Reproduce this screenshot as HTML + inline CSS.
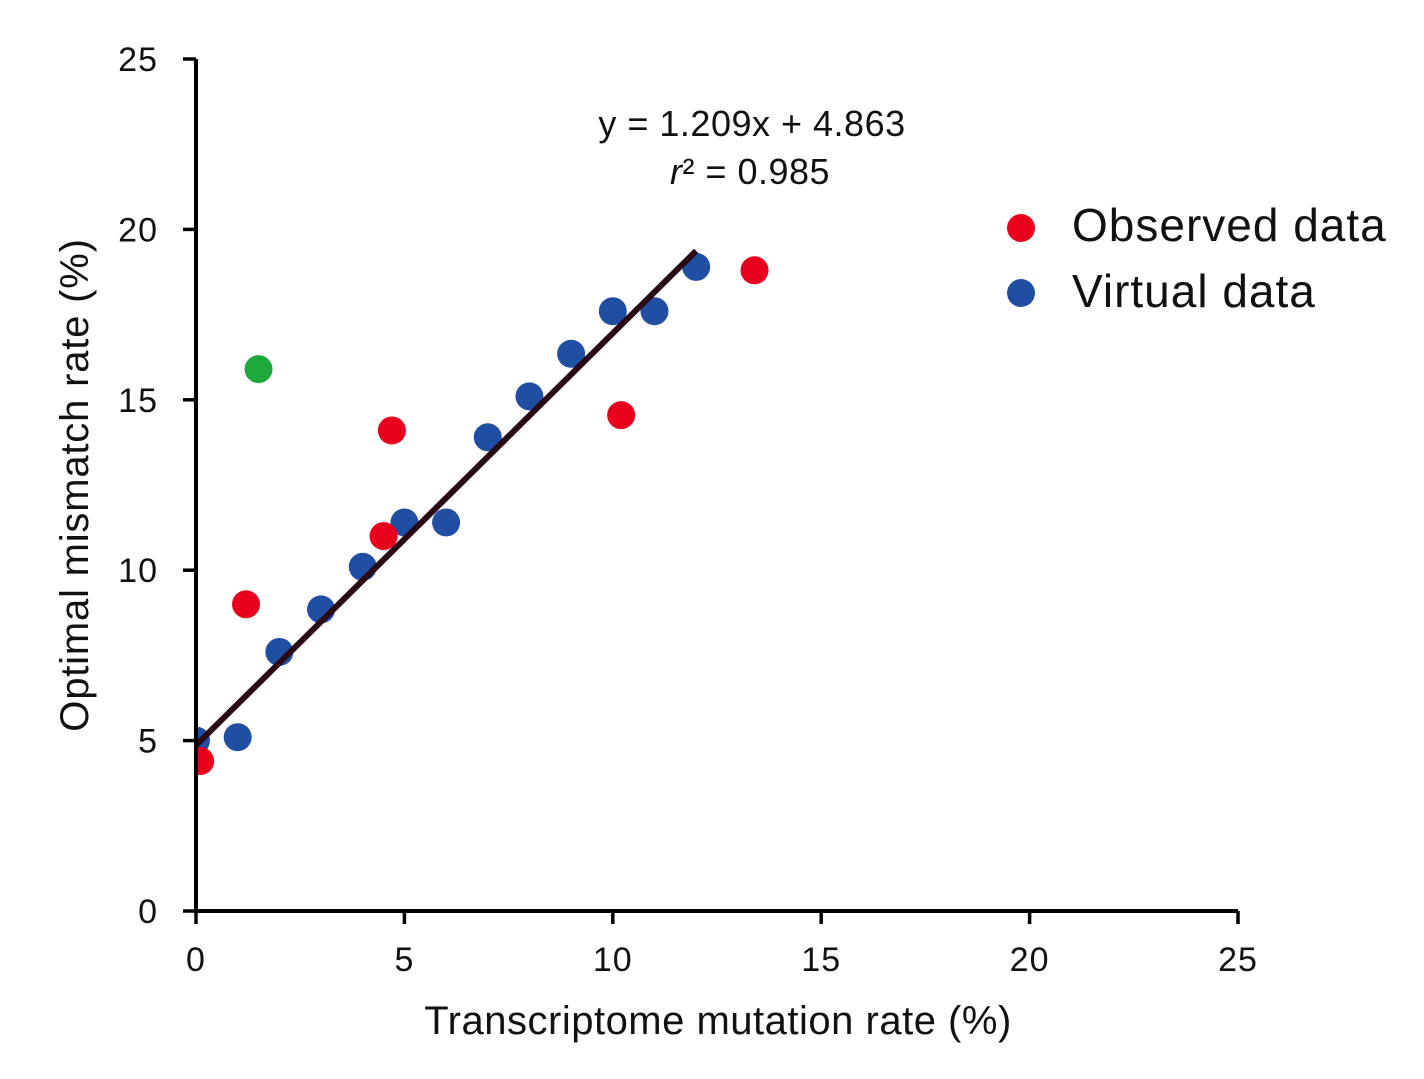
<!DOCTYPE html>
<html><head><meta charset="utf-8"><style>
html,body{margin:0;padding:0;background:#fff;}
svg text{font-family:"Liberation Sans",Arial,sans-serif;fill:#111;}
</style></head><body>
<svg id="chart" width="1424" height="1079" viewBox="0 0 1424 1079" xmlns="http://www.w3.org/2000/svg" style="position:absolute;left:0;top:0">
<defs><clipPath id="plotclip"><rect x="197" y="40" width="1060" height="870"/></clipPath></defs>
<g id="marks" clip-path="url(#plotclip)"></g>
<g id="axes"></g>
</svg>
<script>
const xTicks=[0,5,10,15,20,25];
const yTicks=[0,5,10,15,20,25];
const virtualX=[0,1,2,3,4,5,6,7,8,9,10,11,12];
const virtualY=[5.0,5.1,7.6,8.85,10.1,11.4,11.4,13.9,15.1,16.35,17.6,17.6,18.9];
const observedX=[0.1,1.2,4.5,4.7,10.2,13.4];
const observedY=[4.4,9.0,11.0,14.1,14.55,18.8];
const outlierX=[1.5];
const outlierY=[15.9];
const fitSlope=1.209, fitIntercept=4.863, fitRange=[0,12];

const ns='http://www.w3.org/2000/svg';
const X0=196,X1=1238,Y0=911,Y1=59;
const sx=v=>X0+(v-0)/(25-0)*(X1-X0);
const sy=v=>Y0-(v-0)/(25-0)*(Y0-Y1);
function mk(tag,attrs,parent,text){const e=document.createElementNS(ns,tag);for(const k in attrs)e.setAttribute(k,attrs[k]);if(text!==undefined)e.textContent=text;parent.appendChild(e);return e;}
const marks=document.getElementById('marks'), axes=document.getElementById('axes');

function dots(xs,ys,color,name){xs.forEach((x,i)=>{const c=mk('circle',{cx:sx(x),cy:sy(ys[i]),r:14,fill:color},marks);

});}
dots(virtualX,virtualY,'#1f4ea3','virtual');
dots(observedX,observedY,'#e8001c','observed');
dots(outlierX,outlierY,'#1fa83a','outlier');
const fl=mk('line',{x1:sx(fitRange[0]),y1:sy(fitIntercept+fitSlope*fitRange[0]),x2:sx(fitRange[1]),y2:sy(fitIntercept+fitSlope*fitRange[1]),stroke:'#2a0a14','stroke-width':6},marks);



const ya=mk('line',{x1:X0,y1:Y1,x2:X0,y2:Y0+2,stroke:'#000','stroke-width':4},axes);


const xa=mk('line',{x1:X0-2,y1:Y0,x2:X1,y2:Y0,stroke:'#000','stroke-width':4},axes);


yTicks.forEach(t=>{const l=mk('line',{x1:X0-13,y1:sy(t),x2:X0,y2:sy(t),stroke:'#000','stroke-width':3.5},axes);


const tx=mk('text',{x:158,y:sy(t)+12,'text-anchor':'end','font-size':34,'letter-spacing':1},axes,String(t));

});
xTicks.forEach(t=>{const l=mk('line',{x1:sx(t),y1:Y0,x2:sx(t),y2:Y0+13,stroke:'#000','stroke-width':3.5},axes);


const tx=mk('text',{x:sx(t),y:971,'text-anchor':'middle','font-size':34,'letter-spacing':1},axes,String(t));

});
</script>
<svg style="position:absolute;left:0;top:0" width="1424" height="1079">
<text x="718" y="1034" text-anchor="middle" font-size="40" letter-spacing="0.5" style="font-family:'Liberation Sans',sans-serif">Transcriptome mutation rate (%)</text>
<text transform="translate(88,485) rotate(-90)" text-anchor="middle" font-size="40" letter-spacing="0.8" style="font-family:'Liberation Sans',sans-serif">Optimal mismatch rate (%)</text>
<text x="752" y="136" text-anchor="middle" font-size="36" letter-spacing="0.5" style="font-family:'Liberation Sans',sans-serif">y = 1.209x + 4.863</text>
<text x="750" y="184" text-anchor="middle" font-size="36" letter-spacing="0.5" style="font-family:'Liberation Sans',sans-serif"><tspan font-style="italic">r</tspan>² = 0.985</text>
<g>
<circle cx="1021" cy="228" r="14" fill="#e8001c"/>
<text x="1072" y="241" font-size="46" letter-spacing="1" style="font-family:'Liberation Sans',sans-serif">Observed data</text>
<circle cx="1021" cy="293" r="14" fill="#1f4ea3"/>
<text x="1072" y="307" font-size="46" letter-spacing="1" style="font-family:'Liberation Sans',sans-serif">Virtual data</text>
</g>
</svg>
</body></html>
